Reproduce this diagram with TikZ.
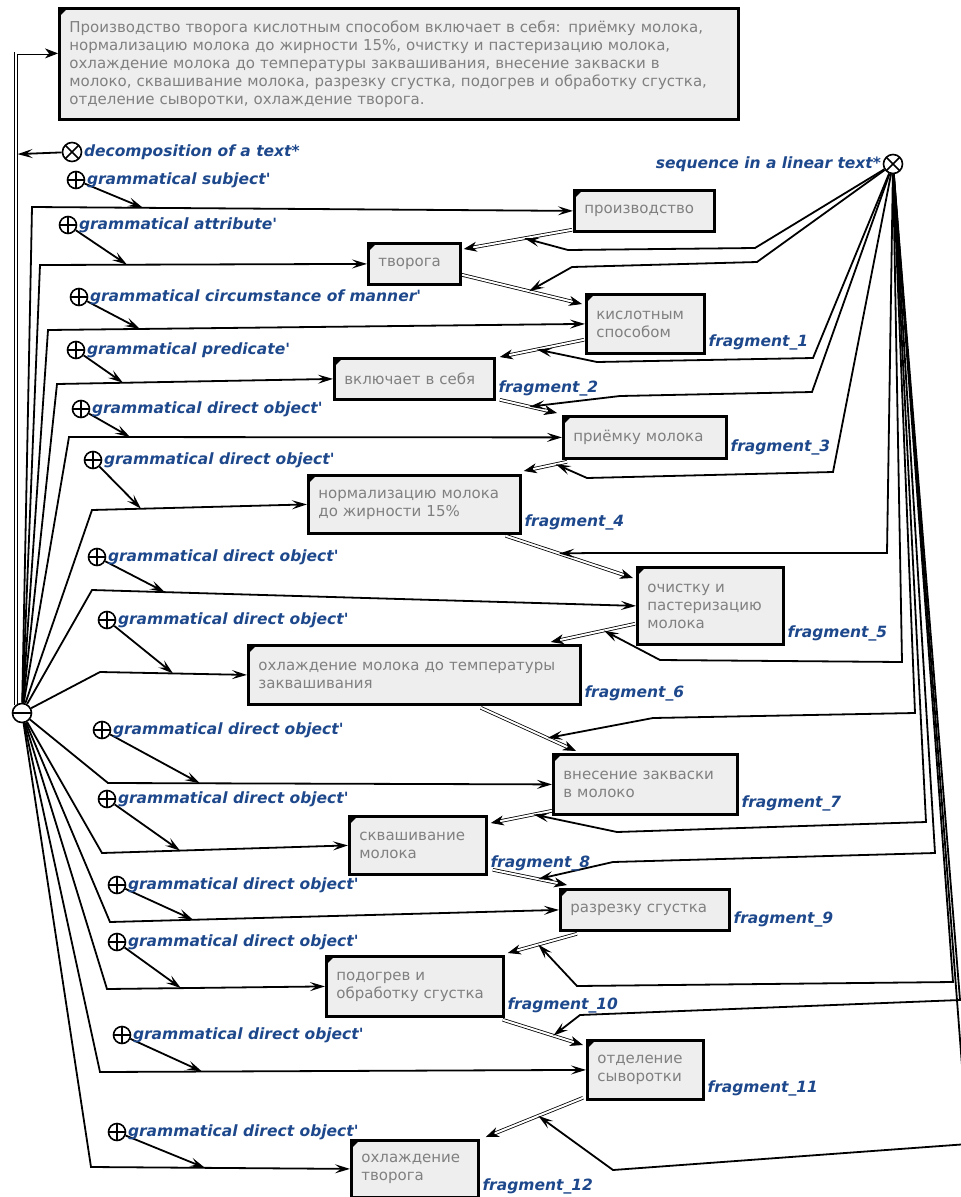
\documentclass[tikz,border=0pt]{standalone}
\usepackage{fontspec}
\setmainfont{DejaVu Sans}
\newfontfamily\rolefamily{DejaVu Sans Bold Oblique}
\usetikzlibrary{arrows.meta, positioning, backgrounds}
\definecolor{rolecol}{RGB}{30,72,140}
\definecolor{fragfill}{RGB}{238,238,238}
\definecolor{fragtext}{RGB}{128,128,128}

\begin{document}
\begin{tikzpicture}[
    x=1pt, y=-1pt,
    fragbox/.style 2 args = {draw, line width=2.8pt, fill=fragfill, text=fragtext,
                      font=\fontsize{15}{18}\selectfont, align=left,
                      anchor=north west, inner xsep=10pt, inner ysep=2pt,
                      minimum width=#1pt, minimum height=#2pt, text width=#1pt-20pt,
                      path picture={\fill[black] (path picture bounding box.north west)
                        -- ++(8pt,0pt) -- ++(-8pt,-8pt) -- cycle;}},
    opplus/.style  = {circle, draw, fill=white, line width=1.6pt, minimum size=17pt,
                      inner sep=0pt,
                      path picture={\draw[line width=1.6pt]
                        (path picture bounding box.north) -- (path picture bounding box.south)
                        (path picture bounding box.west) -- (path picture bounding box.east);}},
    optimes/.style = {circle, draw, fill=white, line width=1.6pt, minimum size=19pt,
                      inner sep=0pt,
                      path picture={\draw[line width=1.6pt]
                        (path picture bounding box.north west) -- (path picture bounding box.south east)
                        (path picture bounding box.north east) -- (path picture bounding box.south west);}},
    opminus/.style = {circle, draw, fill=white, line width=1.6pt, minimum size=19pt,
                      inner sep=0pt,
                      path picture={\draw[line width=1.6pt]
                        (path picture bounding box.west) -- (path picture bounding box.east);}},
    rolelbl/.style = {font=\rolefamily\fontsize{15.5}{18}\selectfont, text=rolecol, inner sep=1.5pt},
    relarrow/.style = {-{Stealth[length=15pt, width=9pt, inset=6pt]}, line width=1.8pt},
    seqline/.style  = {double=white, double distance=2pt, line width=0.8pt,
                       -{Stealth[length=13pt, width=10pt, inset=4pt]}},
]
\useasboundingbox (0,0) rectangle (961,1197);

%% Source text
\node[fragbox={679}{111}] (src) at (58,7)
    {Производство творога кислотным способом включает в себя: приёмку молока,\\
     нормализацию молока до жирности 15\%, очистку и пастеризацию молока,\\
     охлаждение молока до температуры заквашивания, внесение закваски в\\
     молоко, сквашивание молока, разрезку сгустка, подогрев и обработку сгустка,\\
     отделение сыворотки, охлаждение творога.};

%% Fragments
\node[fragbox={140}{41}] (proizv)  at (573,189)  {производство};
\node[fragbox={92}{41}]  (tvoroga) at (367,242)  {творога};
\node[fragbox={118}{59}] (fr1)     at (585,293)  {кислотным\\способом};
\node[fragbox={160}{41}] (fr2)     at (333,357)  {включает в себя};
\node[fragbox={163}{42}] (fr3)     at (562,415)  {приёмку молока};
\node[fragbox={212}{58}] (fr4)     at (307,474)  {нормализацию молока\\до жирности 15\%};
\node[fragbox={146}{77}] (fr5)     at (636,566)  {очистку и\\пастеризацию\\молока};
\node[fragbox={332}{59}] (fr6)     at (247,644)  {охлаждение молока до температуры\\заквашивания};
\node[fragbox={184}{60}] (fr7)     at (552,753)  {внесение закваски\\в молоко};
\node[fragbox={137}{58}] (fr8)     at (348,815)  {сквашивание\\молока};
\node[fragbox={169}{41}] (fr9)     at (559,888)  {разрезку сгустка};
\node[fragbox={177}{60}] (fr10)    at (325,955)  {подогрев и\\обработку сгустка};
\node[fragbox={116}{59}] (fr11)    at (586,1039) {отделение\\сыворотки};
\node[fragbox={127}{57}] (fr12)    at (350,1139) {охлаждение\\творога};

%% Fragment names
\node[rolelbl, anchor=west] (n1)  at ([shift={(1,-12)}]fr1.south east)  {fragment\_1};
\node[rolelbl, anchor=west] (n2)  at ([shift={(1,-12)}]fr2.south east)  {fragment\_2};
\node[rolelbl, anchor=west] (n3)  at ([shift={(1,-12)}]fr3.south east)  {fragment\_3};
\node[rolelbl, anchor=west] (n4)  at ([shift={(1,-12)}]fr4.south east)  {fragment\_4};
\node[rolelbl, anchor=west] (n5)  at ([shift={(1,-12)}]fr5.south east)  {fragment\_5};
\node[rolelbl, anchor=west] (n6)  at ([shift={(1,-12)}]fr6.south east)  {fragment\_6};
\node[rolelbl, anchor=west] (n7)  at ([shift={(1,-12)}]fr7.south east)  {fragment\_7};
\node[rolelbl, anchor=west] (n8)  at ([shift={(1,-12)}]fr8.south east)  {fragment\_8};
\node[rolelbl, anchor=west] (n9)  at ([shift={(1,-12)}]fr9.south east)  {fragment\_9};
\node[rolelbl, anchor=west] (n10) at ([shift={(1,-12)}]fr10.south east) {fragment\_10};
\node[rolelbl, anchor=west] (n11) at ([shift={(1,-12)}]fr11.south east) {fragment\_11};
\node[rolelbl, anchor=west] (n12) at ([shift={(1,-12)}]fr12.south east) {fragment\_12};

%% Operators
\node[opminus] (minus) at (22,713) {};
\node[optimes] (dec)   at (72,152) {};
\node[rolelbl, right=0pt of dec] (declbl) {decomposition of a text*};
\node[optimes] (seqop) at (893,164) {};
\node[rolelbl, left=0pt of seqop] (seqlbl) {sequence in a linear text*};

%% Grammatical roles
\node[opplus] (p0)  at (76,180)   {};
\node[opplus] (p1)  at (68,225)   {};
\node[opplus] (p2)  at (79,297)   {};
\node[opplus] (p3)  at (76,350)   {};
\node[opplus] (p4)  at (81,409)   {};
\node[opplus] (p5)  at (93,460)   {};
\node[opplus] (p6)  at (97,557)   {};
\node[opplus] (p7)  at (107,620)  {};
\node[opplus] (p8)  at (102,730)  {};
\node[opplus] (p9)  at (107,799)  {};
\node[opplus] (p10) at (117,885)  {};
\node[opplus] (p11) at (117,942)  {};
\node[opplus] (p12) at (122,1035) {};
\node[opplus] (p13) at (117,1132) {};
\node[rolelbl, right=0pt of p0]  (r0)  {grammatical subject'};
\node[rolelbl, right=0pt of p1]  (r1)  {grammatical attribute'};
\node[rolelbl, right=0pt of p2]  (r2)  {grammatical circumstance of manner'};
\node[rolelbl, right=0pt of p3]  (r3)  {grammatical predicate'};
\node[rolelbl, right=0pt of p4]  (r4)  {grammatical direct object'};
\node[rolelbl, right=0pt of p5]  (r5)  {grammatical direct object'};
\node[rolelbl, right=0pt of p6]  (r6)  {grammatical direct object'};
\node[rolelbl, right=0pt of p7]  (r7)  {grammatical direct object'};
\node[rolelbl, right=0pt of p8]  (r8)  {grammatical direct object'};
\node[rolelbl, right=0pt of p9]  (r9)  {grammatical direct object'};
\node[rolelbl, right=0pt of p10] (r10) {grammatical direct object'};
\node[rolelbl, right=0pt of p11] (r11) {grammatical direct object'};
\node[rolelbl, right=0pt of p12] (r12) {grammatical direct object'};
\node[rolelbl, right=0pt of p13] (r13) {grammatical direct object'};

\begin{scope}[on background layer]
  %% Decomposition of the source text
  \draw[seqline] (minus.125) |- coordinate[pos=0.4226] (dj) ([yshift=10.5pt]src.west);
  \draw[relarrow, shorten >=1.5pt] (dec) -- (dj);

  %% Roles: from the whole to each fragment
  \draw[relarrow] (minus) -- (32,207)   -- coordinate[pos=0.205] (m0)  (proizv.west);
  \draw[relarrow] (minus) -- (40,265)   -- coordinate[pos=0.266] (m1)  (tvoroga.west);
  \draw[relarrow] (minus) -- (48,330)   -- coordinate[pos=0.171] (m2)  (fr1.west);
  \draw[relarrow] (minus) -- (57,384)   -- coordinate[pos=0.239] (m3)  (fr2.west);
  \draw[relarrow] (minus) -- (69,437)   -- coordinate[pos=0.124] (m4)  (fr3.west);
  \draw[relarrow] (minus) -- (92,510)   -- coordinate[pos=0.228] (m5)  (fr4.west);
  \draw[relarrow] (minus) -- (92,590)   -- coordinate[pos=0.134] (m6)  (fr5.west);
  \draw[relarrow] (minus) -- (100,672)  -- coordinate[pos=0.497] (m7)  (fr6.west);
  \draw[relarrow] (minus) -- (108,783)  -- coordinate[pos=0.207] (m8)  (fr7.west);
  \draw[relarrow] (minus) -- (102,853)  -- coordinate[pos=0.317] (m9)  (fr8.west);
  \draw[relarrow] (minus) -- (110,922)  -- coordinate[pos=0.185] (m10) (fr9.west);
  \draw[relarrow] (minus) -- (107,989)  -- coordinate[pos=0.339] (m11) (fr10.west);
  \draw[relarrow] (minus) -- (100,1072) -- coordinate[pos=0.21]  (m12) (fr11.west);
  \draw[relarrow] (minus) -- (91,1167)  -- coordinate[pos=0.44]  (m13) (fr12.west);

  \draw[relarrow] (p0)  -- (m0);
  \draw[relarrow] (p1)  -- (m1);
  \draw[relarrow] (p2)  -- (m2);
  \draw[relarrow] (p3)  -- (m3);
  \draw[relarrow] (p4)  -- (m4);
  \draw[relarrow] (p5)  -- (m5);
  \draw[relarrow] (p6)  -- (m6);
  \draw[relarrow] (p7)  -- (m7);
  \draw[relarrow] (p8)  -- (m8);
  \draw[relarrow] (p9)  -- (m9);
  \draw[relarrow] (p10) -- (m10);
  \draw[relarrow] (p11) -- (m11);
  \draw[relarrow] (p12) -- (m12);
  \draw[relarrow] (p13) -- (m13);

  %% Linear sequence of the fragments
  \draw[seqline] ([shift={(-1,-3)}]proizv.south west) -- coordinate[pos=0.44] (d1) ([shift={(2,7)}]tvoroga.north east);
  \draw[seqline] ([shift={(0,-11)}]tvoroga.south east) -- coordinate[pos=0.56] (d2) ([shift={(-3,11)}]fr1.north west);
  \draw[seqline] ([shift={(-1,-15)}]fr1.south west)    -- coordinate[pos=0.56] (d3) ([shift={(4,0)}]fr2.north east);
  \draw[seqline] ([shift={(4,-1)}]fr2.south east)      -- coordinate[pos=0.52] (d4) ([shift={(-5,-2)}]fr3.north west);
  \draw[seqline] ([shift={(5,2)}]fr3.south west)       -- coordinate[pos=0.26] (d5) ([shift={(2,-3)}]fr4.north east);
  \draw[seqline] ([shift={(-16,1)}]fr4.south east)     -- coordinate[pos=0.42] (d6) ([shift={(-3,12)}]fr5.north west);
  \draw[seqline] ([shift={(-1,-22)}]fr5.south west)    -- coordinate[pos=0.37] (d7) ([shift={(-31,-2)}]fr6.north east);
  \draw[seqline] ([shift={(-101,2)}]fr6.south east)    -- coordinate[pos=0.70] (d8) ([shift={(24,-2)}]fr7.north west);
  \draw[seqline] ([shift={(0,-5)}]fr7.south west)      -- coordinate[pos=0.30] (d9) ([shift={(3,8)}]fr8.north east);
  \draw[seqline] ([shift={(5,-6)}]fr8.south east)      -- coordinate[pos=0.61] (d10) ([shift={(8,-3)}]fr9.north west);
  \draw[seqline] ([shift={(18,2)}]fr9.south west)      -- coordinate[pos=0.56] (d11) ([shift={(3,-2)}]fr10.north east);
  \draw[seqline] ([shift={(-2,2)}]fr10.south east)     -- coordinate[pos=0.63] (d12) ([shift={(-3,6)}]fr11.north west);
  \draw[seqline] ([shift={(-3,-3)}]fr11.south west)    -- coordinate[pos=0.46] (d13) ([shift={(6,-2)}]fr12.north east);

  \draw[relarrow] (seqop) -- (755,248)  -- (568,250)  -- (d1);
  \draw[relarrow] (seqop) -- (757,262)  -- (572,267)  -- (d2);
  \draw[relarrow] (seqop) -- (813,358)  -- (597,362)  -- (d3);
  \draw[relarrow] (seqop) -- (812,392)  -- (620,396)  -- (d4);
  \draw[relarrow] (seqop) -- (833,472)  -- (587,478)  -- (d5);
  \draw[relarrow] (seqop) -- (887,553)  -- (590,553)  -- (d6);
  \draw[relarrow] (seqop) -- (902,662)  -- (660,660)  -- (d7);
  \draw[relarrow] (seqop) -- (915,713)  -- (653,718)  -- (d8);
  \draw[relarrow] (seqop) -- (926,822)  -- (617,832)  -- (d9);
  \draw[relarrow] (seqop) -- (935,853)  -- (613,862)  -- (d10);
  \draw[relarrow] (seqop) -- (953,982)  -- (577,986)  -- (d11);
  \draw[relarrow] (seqop) -- (960,1000) -- (580,1015) -- (d12);
  \draw[relarrow] (seqop) -- (968,1144) -- (613,1170) -- (d13);
\end{scope}

\end{tikzpicture}
\end{document}
